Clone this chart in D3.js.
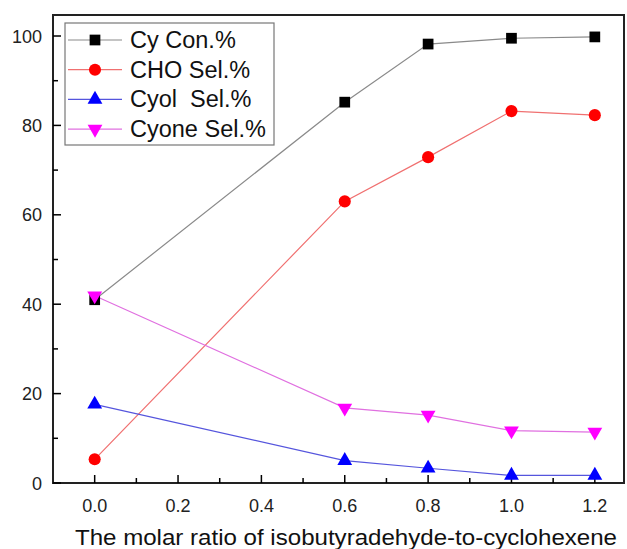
<!DOCTYPE html>
<html>
<head>
<meta charset="utf-8">
<script src="https://cdn.jsdelivr.net/npm/d3@7"></script>
<style>
  body { margin: 0; background: #fff; }
  svg { display: block; font-family: Arial, "Liberation Sans", sans-serif; }
</style>
</head>
<body>
<svg id="chart" width="627" height="549"></svg>
<script>
// Molar ratio of isobutyraldehyde to cyclohexene
const ratios = [0.0, 0.6, 0.8, 1.0, 1.2];
// Series values (%)
const cyCon   = [41.0, 85.2, 98.2, 99.5, 99.8];
const choSel  = [5.3, 63.0, 72.9, 83.2, 82.3];
const cyolSel = [17.6, 5.0, 3.3, 1.7, 1.7];
const cyoneSel = [41.9, 16.8, 15.2, 11.7, 11.4];

const seriesNames = ["Cy Con.%", "CHO Sel.%", "Cyol  Sel.%", "Cyone Sel.%"];
const xTicks = [0.0, 0.2, 0.4, 0.6, 0.8, 1.0, 1.2];
const yTicks = [0, 20, 40, 60, 80, 100];
const xLabel = "The molar ratio of isobutyradehyde-to-cyclohexene";

const series = [
  { name: seriesNames[0], values: cyCon,   line: "#8a8a8a", fill: "#000000", symbol: d3.symbolSquare, rot: 0 },
  { name: seriesNames[1], values: choSel,  line: "#f07070", fill: "#ff0000", symbol: d3.symbolCircle, rot: 0 },
  { name: seriesNames[2], values: cyolSel, line: "#5555dd", fill: "#0000ff", symbol: d3.symbolTriangle, rot: 0 },
  { name: seriesNames[3], values: cyoneSel, line: "#e070e0", fill: "#ff00ff", symbol: d3.symbolTriangle, rot: 180 }
];

const svg = d3.select("#chart");
const plotL = 53, plotR = 624, plotT = 15, plotB = 483;

const x = d3.scaleLinear().domain([-0.1, 1.27]).range([plotL, plotR]);
const y = d3.scaleLinear().domain([0, 104.7]).range([plotB, plotT]);

// Frame
svg.append("rect")
  .attr("x", plotL).attr("y", plotT)
  .attr("width", plotR - plotL).attr("height", plotB - plotT)
  .attr("fill", "none").attr("stroke", "#222").attr("stroke-width", 2);

// Bottom axis: inward ticks, minor every 0.1
const xMinor = d3.range(0, 13).map(i => i / 10);
const gx = svg.append("g").attr("transform", `translate(0,${plotB})`);
gx.selectAll("line").data(xMinor).join("line")
  .attr("x1", d => x(d)).attr("x2", d => x(d))
  .attr("y1", 0).attr("y2", d => (Math.round(d * 10) % 2 === 0 ? -8 : -5))
  .attr("stroke", "#000").attr("stroke-width", 1.5);
gx.selectAll("text").data(xTicks).join("text")
  .attr("x", d => x(d)).attr("y", 29)
  .attr("text-anchor", "middle")
  .attr("font-size", 18).attr("fill", "#222")
  .text(d => d3.format(".1f")(d));

// Left axis: inward ticks, minor every 10
const yMinor = d3.range(0, 101, 10);
const gy = svg.append("g").attr("transform", `translate(${plotL},0)`);
gy.selectAll("line").data(yMinor).join("line")
  .attr("y1", d => y(d)).attr("y2", d => y(d))
  .attr("x1", 0).attr("x2", d => (d % 20 === 0 ? 8 : 5))
  .attr("stroke", "#000").attr("stroke-width", 1.5);
gy.selectAll("text").data(yTicks).join("text")
  .attr("x", -11).attr("y", d => y(d) + 6.5)
  .attr("text-anchor", "end")
  .attr("font-size", 18).attr("fill", "#222")
  .text(d => d);

// Axis title
svg.append("text")
  .attr("x", 75).attr("y", 545)
  .attr("font-size", 22).attr("fill", "#111")
  .attr("textLength", 542).attr("lengthAdjust", "spacingAndGlyphs")
  .text(xLabel);

const line = d3.line().x((d, i) => x(ratios[i])).y(d => y(d));

const symbolPath = (s) => d3.symbol().type(s.symbol).size(s.symbol === d3.symbolCircle ? 115 : (s.symbol === d3.symbolSquare ? 115 : 95))();

series.forEach(s => {
  svg.append("path")
    .datum(s.values)
    .attr("d", line)
    .attr("fill", "none")
    .attr("stroke", s.line)
    .attr("stroke-width", 1.2);
});
series.forEach(s => {
  svg.append("g").selectAll("path").data(s.values).join("path")
    .attr("d", symbolPath(s))
    .attr("transform", (d, i) => `translate(${x(ratios[i])},${y(d)}) rotate(${s.rot})`)
    .attr("fill", s.fill);
});

// Legend
const lg = svg.append("g");
lg.append("rect")
  .attr("x", 65).attr("y", 23).attr("width", 209).attr("height", 122)
  .attr("fill", "#fff").attr("stroke", "#777").attr("stroke-width", 1.2);
series.forEach((s, i) => {
  const cy = 40 + i * 29.7;
  lg.append("line")
    .attr("x1", 68).attr("x2", 122).attr("y1", cy).attr("y2", cy)
    .attr("stroke", s.line).attr("stroke-width", 1.2);
  lg.append("path")
    .attr("d", symbolPath(s))
    .attr("transform", `translate(95,${cy}) rotate(${s.rot})`)
    .attr("fill", s.fill);
  lg.append("text")
    .attr("x", 130).attr("y", cy + 8)
    .attr("font-size", 23.5).attr("fill", "#111")
    .style("white-space", "pre")
    .text(s.name);
});
</script>
</body>
</html>
